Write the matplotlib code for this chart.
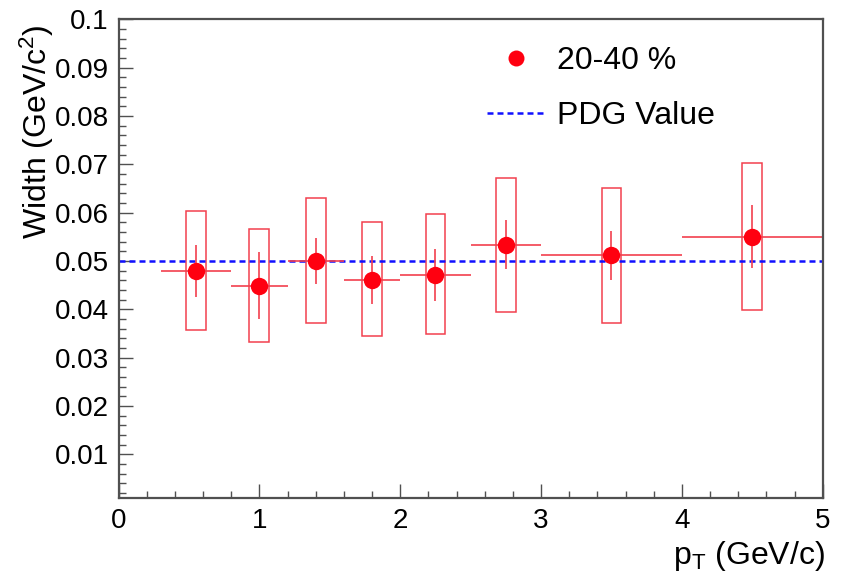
import matplotlib
matplotlib.use("Agg")
import matplotlib.pyplot as plt
from matplotlib import rcParams
from matplotlib.patches import Rectangle
from matplotlib.lines import Line2D
import numpy as np

config = {
    "font.family": ["Liberation Sans", "DejaVu Sans"],
    "font.size": 20,
    "mathtext.fontset": "custom",
    "mathtext.rm": "Liberation Sans",
    "mathtext.it": "Liberation Sans",
    "xtick.direction": "in",
    "ytick.direction": "in",
}
rcParams.update(config)

# data
pt = [0.55, 1.0, 1.4, 1.8, 2.25, 2.75, 3.5, 4.5]
pt_lo = [0.3, 0.8, 1.2, 1.6, 2.0, 2.5, 3.0, 4.0]
pt_hi = [0.8, 1.2, 1.6, 2.0, 2.5, 3.0, 4.0, 5.0]
width = [0.0479, 0.0449, 0.0500, 0.0461, 0.0472, 0.0534, 0.0512, 0.0550]
stat_up = [0.0533, 0.0518, 0.0548, 0.0510, 0.0525, 0.0584, 0.0562, 0.0616]
stat_dn = [0.0425, 0.0381, 0.0452, 0.0411, 0.0417, 0.0483, 0.0461, 0.0485]
sys_up = [0.0603, 0.0566, 0.0630, 0.0581, 0.0597, 0.0672, 0.0651, 0.0702]
sys_dn = [0.0357, 0.0332, 0.0372, 0.0344, 0.0349, 0.0394, 0.0372, 0.0398]
pdg_width = 0.05

xticks = [0, 1, 2, 3, 4, 5]
yticks = [0.01, 0.02, 0.03, 0.04, 0.05, 0.06, 0.07, 0.08, 0.09, 0.1]
ytick_labels = ["0.01", "0.02", "0.03", "0.04", "0.05", "0.06", "0.07", "0.08", "0.09", "0.1"]

pt = np.array(pt)
width = np.array(width)
xerr = [pt - np.array(pt_lo), np.array(pt_hi) - pt]
yerr = [width - np.array(stat_dn), np.array(stat_up) - width]

red = "#ff0010"
line_red = "#f2404e"
blue = "#1010ff"
frame = "#505050"
dash = (0, (2.4, 1.6))

fig = plt.figure(figsize=(8.43, 5.78), dpi=100)
ax = fig.add_axes([0.1406, 0.1379, 0.8353, 0.8284])

# systematic boxes
box_half = 0.07
for x, lo, hi in zip(pt, sys_dn, sys_up):
    ax.add_patch(Rectangle((x - box_half, lo), 2 * box_half, hi - lo,
                           fill=False, edgecolor=line_red, linewidth=1.1))

ax.axhline(pdg_width, color=blue, linewidth=1.8, linestyle=dash)

ax.errorbar(pt, width, xerr=xerr, yerr=yerr, fmt="none",
            ecolor=line_red, elinewidth=1.2, capsize=0)
ax.plot(pt, width, "o", color=red, markersize=12.5, markeredgewidth=0)

ax.set_xlim(0, 5)
ax.set_ylim(0.0009, 0.1)
ax.set_xticks(xticks)
ax.set_xticks(np.arange(0, 5.01, 0.2), minor=True)
ax.set_yticks(yticks)
ax.set_yticklabels(ytick_labels)
ax.set_yticks(np.arange(0.002, 0.1001, 0.002), minor=True)

ax.tick_params(which="major", length=10, width=1, color=frame, labelsize=20, pad=7)
ax.tick_params(which="minor", length=5, width=1, color=frame)
ax.tick_params(top=False, right=False, which="both")
for s in ax.spines.values():
    s.set_color(frame)
    s.set_linewidth(1.6)

ax.set_xlabel("p$_\\mathregular{T}$ (GeV/c)", fontsize=23, ha="right")
ax.xaxis.set_label_coords(1.003, -0.085)
ax.set_ylabel("Width (GeV/c$^\\mathregular{2}$)", fontsize=23, ha="right")
ax.yaxis.set_label_coords(-0.089, 0.99)

handles = [
    Line2D([], [], marker="o", color=red, linestyle="none", markersize=11.5, markeredgewidth=0),
    Line2D([], [], color=blue, linewidth=1.8, linestyle=dash),
]
ax.legend(handles, ["20-40 %", "PDG Value"], loc="upper left",
          bbox_to_anchor=(0.523, 0.944), frameon=False, fontsize=23,
          handlelength=1.8, handletextpad=0.4, labelspacing=0.77, borderpad=0,
          borderaxespad=0)

fig.savefig("out.png", dpi=100)
